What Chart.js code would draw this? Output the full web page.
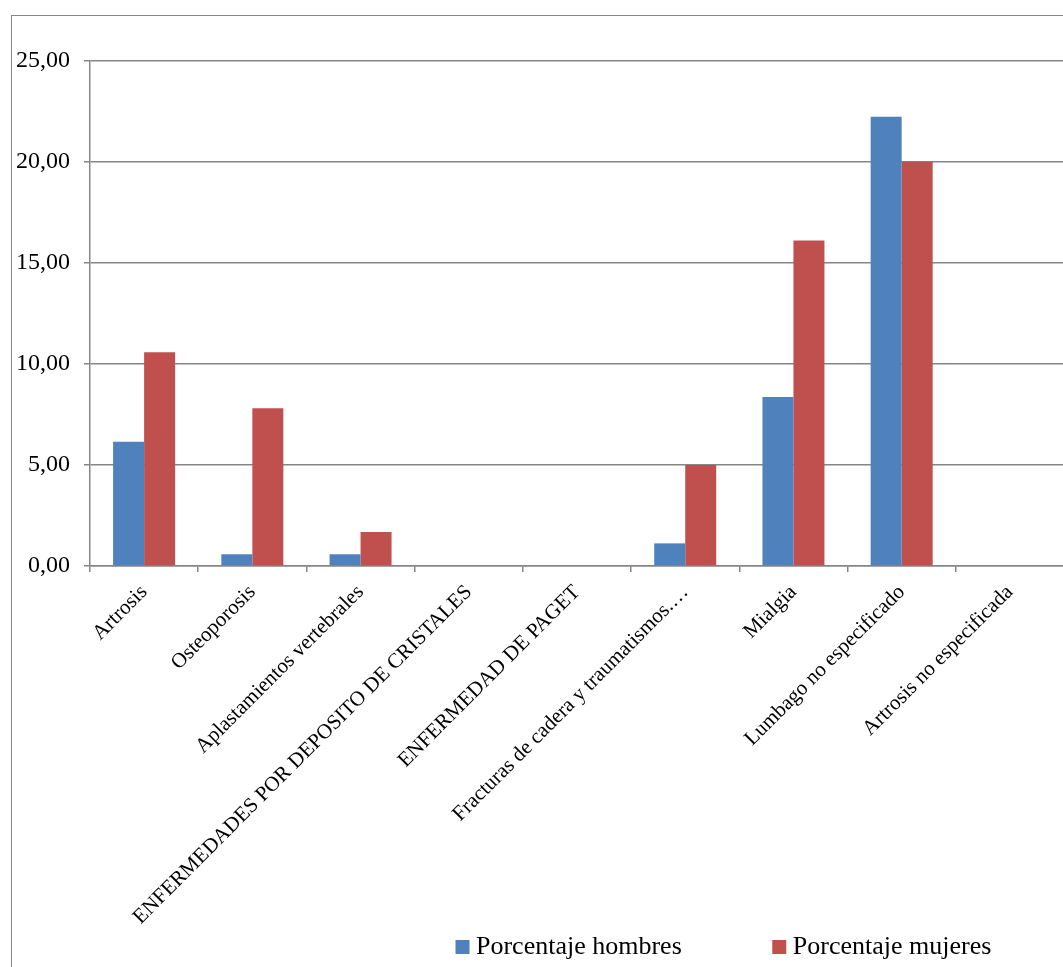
<!DOCTYPE html>
<html>
<head>
<meta charset="utf-8">
<script src="https://cdn.jsdelivr.net/npm/chart.js@4.4.1/dist/chart.umd.min.js"></script>
<style>
  html, body { margin: 0; padding: 0; background: #fff; overflow: hidden; }
  #frame {
    position: absolute; left: 11px; top: 15px;
    width: 1100px; height: 1000px;
    border: 1.5px solid #868686;
  }
  #chart { position: absolute; left: 0; top: 0; }
</style>
</head>
<body>
<div id="frame"></div>
<canvas id="chart" width="1080" height="967"></canvas>
<script>
// categories and values
const categories = [
    'Artrosis',
    'Osteoporosis',
    'Aplastamientos vertebrales',
    'ENFERMEDADES POR DEPOSITO DE CRISTALES',
    'ENFERMEDAD DE PAGET',
    'Fracturas de cadera y traumatismos.…',
    'Mialgia',
    'Lumbago no especificado',
    'Artrosis no especificada'
];
const hombres = [6.15, 0.58, 0.58, 0, 0, 1.12, 8.37, 22.24, 0];
const mujeres = [10.58, 7.81, 1.68, 0, 0, 5.00, 16.12, 20.01, 0];
const yTicks = [0, 5, 10, 15, 20, 25];

const gridGray = '#868686';
Chart.defaults.font.family = "'Liberation Serif', 'Times New Roman', serif";
Chart.defaults.color = '#000';

// the legend takes little room in the layout, then gets moved to its spot
// (its box is grown again so the clip does not cut the items off)
const legendShift = {
    id: 'legendShift',
    afterLayout(chart) {
        const lg = chart.legend;
        const w = lg.width;
        lg.left = 365;
        lg.right = lg.left + w;
        lg.top = 837;
        lg.bottom = 967;
        lg.height = lg.bottom - lg.top;
    }
};

new Chart(document.getElementById('chart').getContext('2d'), {
    type: 'bar',
    data: {
        labels: categories,
        datasets: [
            { label: 'Porcentaje hombres', data: hombres, backgroundColor: '#4F81BD' },
            { label: 'Porcentaje mujeres', data: mujeres, backgroundColor: '#C0504D' }
        ]
    },
    options: {
        responsive: false,
        animation: false,
        layout: { padding: { top: 61, left: 0, right: 16, bottom: 0 } },
        datasets: { bar: { categoryPercentage: 0.573, barPercentage: 1 } },
        plugins: {
            tooltip: { enabled: false },
            legend: {
                position: 'bottom',
                align: 'start',
                maxHeight: 40,
                labels: {
                    font: { size: 26 },
                    usePointStyle: true,
                    pointStyle: 'rect',
                    boxWidth: 1,
                    boxHeight: 14,
                    padding: 97
                }
            }
        },
        scales: {
            x: {
                grid: {
                    drawOnChartArea: false,
                    drawTicks: true,
                    tickLength: 6,
                    color: gridGray,
                    lineWidth: 1.5
                },
                border: { color: gridGray, width: 1.5 },
                ticks: {
                    autoSkip: false,
                    minRotation: 45,
                    maxRotation: 45,
                    padding: 8,
                    font: { size: 21 }
                },
                afterFit(scale) { scale.height = 361; }
            },
            y: {
                min: 0,
                max: 25,
                afterBuildTicks(scale) { scale.ticks = yTicks.map(v => ({ value: v })); },
                grid: { color: gridGray, lineWidth: 1.5, tickLength: 6 },
                border: { color: gridGray, width: 1.5 },
                ticks: {
                    padding: 14,
                    font: { size: 24 },
                    callback: v => v.toFixed(2).replace('.', ',')
                },
                afterFit(scale) { scale.width = 90; }
            }
        }
    },
    plugins: [legendShift]
});
</script>
</body>
</html>
